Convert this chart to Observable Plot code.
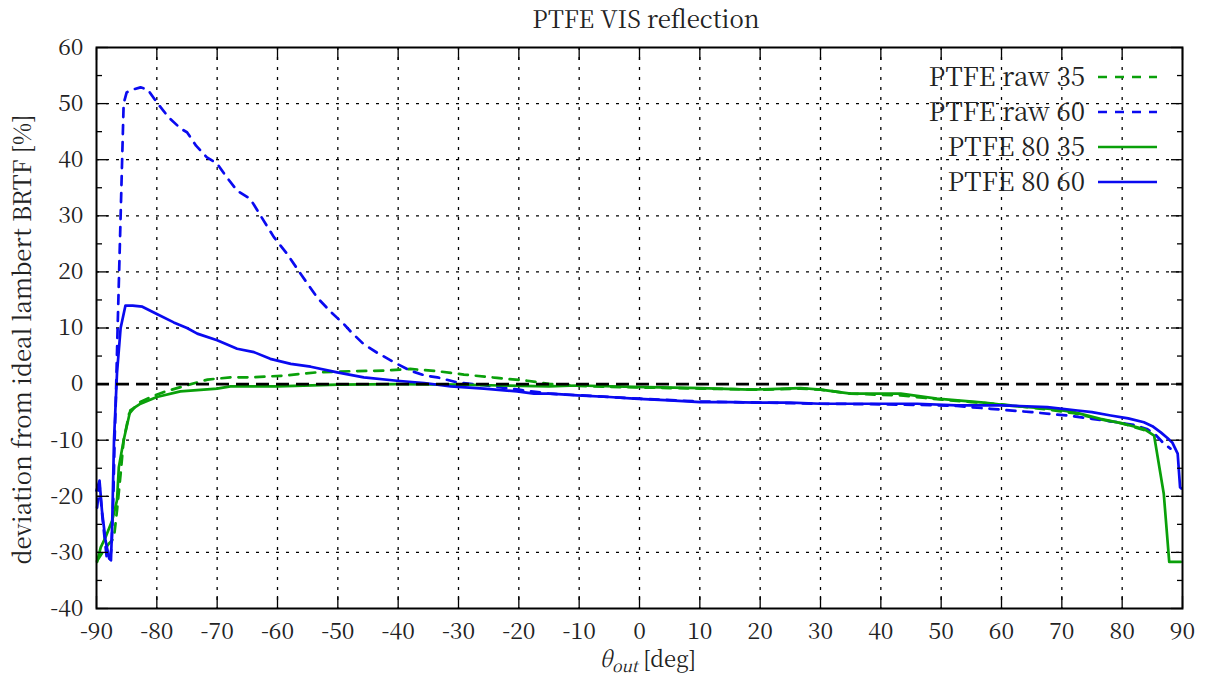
<!DOCTYPE html>
<html>
<head>
<meta charset="utf-8">
<script src="https://cdn.jsdelivr.net/npm/d3@7"></script>
<script src="https://cdn.jsdelivr.net/npm/@observablehq/plot@0.6"></script>
<style>
  body { margin: 0; background: #fff; }
  #chart svg { display: block; }
</style>
</head>
<body>
<div id="chart"></div>
<script>
// Deviation of measured BRTF from an ideal Lambertian reflector, per outgoing angle.

const raw35Angle = [-89.9, -89.0, -88.0, -87.4, -87.1, -86.6, -86.0, -85.5, -84.6, -83.0, -81.0, -78.8, -75.0, -71.6, -67.8, -64.5, -59.0, -53.4, -47.9, -42.4, -38.0, -33.5, -29.1, -23.6, -18.6, -14.8, -10.0, -5.0, 0.0, 5.0, 10.0, 15.6, 20.0, 26.7, 30.0, 35.0, 40.0, 43.3, 49.3, 55.0, 59.8, 65.0, 68.1, 72.0, 76.4, 80.0, 83.6, 84.7];
const raw35Dev = [-31.5, -30.0, -28.5, -27.8, -27.3, -22.5, -16.0, -10.0, -5.3, -3.3, -2.3, -1.4, -0.2, 0.8, 1.2, 1.2, 1.5, 2.1, 2.3, 2.4, 2.7, 2.3, 1.7, 1.1, 0.6, 0.0, -0.3, -0.5, -0.6, -0.7, -0.8, -0.9, -1.0, -0.8, -1.0, -1.7, -1.9, -2.0, -2.7, -3.2, -3.6, -4.2, -4.6, -5.2, -6.3, -7.0, -8.2, -8.8];

const raw60Angle = [-89.9, -89.5, -89.0, -88.3, -87.8, -87.5, -87.2, -87.0, -86.8, -86.5, -86.0, -85.5, -85.0, -84.0, -82.7, -81.5, -80.0, -78.0, -76.0, -75.0, -73.5, -71.7, -70.0, -68.5, -66.7, -64.5, -62.5, -60.6, -58.4, -56.0, -53.4, -51.2, -49.0, -47.9, -45.7, -43.5, -40.7, -38.0, -35.5, -33.5, -30.2, -25.8, -20.0, -15.0, -10.0, -5.0, 0.0, 10.0, 20.0, 30.0, 40.0, 46.0, 52.6, 58.2, 65.0, 70.9, 75.0, 79.2, 82.0, 84.1, 85.5, 86.9, 88.0];
const raw60Dev = [-22.0, -18.0, -24.0, -31.0, -31.5, -29.0, -20.0, -10.0, -3.0, 10.0, 30.0, 50.0, 52.0, 52.5, 52.9, 52.5, 50.2, 47.5, 45.5, 44.9, 42.5, 40.4, 39.3, 37.0, 34.5, 33.0, 29.5, 26.2, 23.2, 19.4, 15.4, 12.9, 10.7, 9.4, 7.1, 5.6, 3.9, 2.4, 1.5, 1.2, 0.3, -0.2, -1.0, -1.7, -2.0, -2.3, -2.6, -3.1, -3.3, -3.5, -3.6, -3.7, -3.9, -4.4, -5.0, -5.6, -6.2, -6.8, -7.3, -8.0, -9.0, -10.6, -11.5];

const pr35Angle = [-89.9, -89.3, -88.5, -87.4, -86.6, -86.3, -85.5, -84.4, -82.7, -80.0, -76.1, -70.0, -67.8, -60.0, -50.0, -40.0, -30.0, -23.0, -15.0, -10.3, -0.9, 10.1, 18.4, 26.7, 30.0, 35.0, 43.3, 49.3, 57.1, 60.9, 68.1, 72.0, 76.4, 80.0, 83.6, 85.3, 86.9, 87.8, 89.7];
const pr35Dev = [-31.7, -29.1, -27.3, -24.3, -20.7, -14.8, -10.0, -4.7, -3.5, -2.3, -1.3, -0.8, -0.4, -0.4, -0.1, 0.0, -0.1, -0.25, -0.4, -0.25, -0.5, -0.7, -1.0, -0.7, -1.0, -1.7, -1.7, -2.6, -3.3, -3.8, -4.4, -5.0, -6.2, -7.0, -8.0, -9.2, -19.6, -31.7, -31.7];

const pr60Angle = [-90.0, -89.5, -89.1, -88.5, -87.9, -87.6, -87.4, -87.1, -86.6, -86.0, -85.2, -84.0, -82.4, -80.0, -77.2, -75.0, -73.3, -70.0, -66.7, -63.9, -61.2, -57.8, -54.5, -50.1, -45.7, -40.2, -35.7, -31.3, -25.8, -20.3, -17.5, -14.8, -10.3, -5.0, -0.9, 5.0, 10.1, 15.0, 19.5, 25.0, 30.0, 35.0, 40.0, 46.0, 52.6, 56.0, 59.8, 63.0, 67.6, 72.6, 75.0, 78.1, 81.0, 83.6, 85.0, 86.4, 87.5, 88.3, 89.2, 89.6, 89.8];
const pr60Dev = [-19.0, -17.2, -22.5, -27.9, -31.1, -31.4, -24.9, -10.0, 2.0, 10.0, 14.0, 14.0, 13.8, 12.5, 11.0, 10.0, 9.0, 7.8, 6.3, 5.7, 4.5, 3.6, 3.1, 2.1, 1.2, 0.6, 0.2, -0.4, -0.8, -1.3, -1.7, -1.7, -2.0, -2.3, -2.6, -2.9, -3.2, -3.2, -3.3, -3.3, -3.5, -3.5, -3.5, -3.5, -3.8, -3.8, -3.8, -3.9, -4.1, -4.7, -5.0, -5.6, -6.1, -6.8, -7.5, -8.6, -9.6, -10.4, -12.4, -18.4, -18.6];

const seriesNames = ["PTFE raw 35", "PTFE raw 60", "PTFE 80 35", "PTFE 80 60"];
const xTicks = d3.range(-90, 91, 10);
const yTicks = d3.range(-40, 61, 10);
const yMinorTicks = d3.range(-35, 60, 10);

const GREEN = "#0aa00a";
const BLUE = "#0a0af0";
const INK = "#222";
const FONT = "'Noto Serif CJK SC', 'Liberation Serif', serif";

const series = [
  {name: seriesNames[0], angle: raw35Angle, dev: raw35Dev, color: GREEN, dash: "9,8"},
  {name: seriesNames[1], angle: raw60Angle, dev: raw60Dev, color: BLUE, dash: "9,8"},
  {name: seriesNames[2], angle: pr35Angle, dev: pr35Dev, color: GREEN, dash: null},
  {name: seriesNames[3], angle: pr60Angle, dev: pr60Dev, color: BLUE, dash: null}
];

const rowsOf = s => s.angle.map((a, i) => ({angle: a, dev: s.dev[i]}));

const W = 1210, H = 677;
const M = {top: 47, right: 28, bottom: 69, left: 96};
const fmt = d => String(d);

const tickStyle = {stroke: "#000", strokeWidth: 1.3, fill: "none", label: null};
const gridStyle = {stroke: "#000", strokeOpacity: 1, strokeWidth: 1.3, strokeDasharray: "3,7"};

const chart = Plot.plot({
  width: W,
  height: H,
  marginTop: M.top,
  marginRight: M.right,
  marginBottom: M.bottom,
  marginLeft: M.left,
  style: {fontSize: "23px", color: INK, background: "#fff"},
  x: {domain: [-90, 90]},
  y: {domain: [-40, 60]},
  marks: [
    Plot.gridX(xTicks.slice(1, -1), gridStyle),
    Plot.gridY(yTicks.slice(1, -1), gridStyle),
    ...series.map(s => Plot.line(rowsOf(s), {
      x: "angle", y: "dev", stroke: s.color, strokeWidth: 2.7,
      strokeDasharray: s.dash, strokeLinejoin: "round"
    })),
    Plot.ruleY([0], {stroke: "#000", strokeWidth: 2.6, strokeDasharray: "13,7"}),
    Plot.frame({stroke: "#000", strokeWidth: 2}),
    // tick labels
    Plot.axisX({ticks: xTicks, anchor: "bottom", tickSize: 0, tickPadding: 14, tickFormat: fmt, label: null, fill: INK}),
    Plot.axisY({ticks: yTicks, anchor: "left", tickSize: 0, tickPadding: 13, tickFormat: fmt, label: null, fill: INK}),
    // inward ticks on all four sides
    Plot.axisX({ticks: xTicks, anchor: "bottom", tickSize: -12, ...tickStyle}),
    Plot.axisX({ticks: xTicks, anchor: "top", tickSize: -12, ...tickStyle}),
    Plot.axisY({ticks: yTicks, anchor: "left", tickSize: -12, ...tickStyle}),
    Plot.axisY({ticks: yTicks, anchor: "right", tickSize: -12, ...tickStyle}),
    Plot.axisY({ticks: yMinorTicks, anchor: "left", tickSize: -6, ...tickStyle}),
    Plot.axisY({ticks: yMinorTicks, anchor: "right", tickSize: -6, ...tickStyle})
  ]
});

document.getElementById("chart").appendChild(chart);

const svg = d3.select(chart);
const ys = chart.scale("y");
const plotCx = (M.left + (W - M.right)) / 2;

const addText = (parent, size) => parent.append("text")
  .attr("font-size", size).attr("fill", INK);

// title
addText(svg, 24)
  .attr("x", plotCx + 7).attr("y", 28)
  .attr("text-anchor", "middle")
  .text("PTFE VIS reflection");

// x axis label with subscript
const xl = addText(svg, 22)
  .attr("x", plotCx + 9).attr("y", 667)
  .attr("text-anchor", "middle");
xl.append("tspan").attr("font-style", "italic").text("θ");
xl.append("tspan").attr("font-style", "italic").attr("font-size", 16).attr("dy", 5).text("out");
xl.append("tspan").attr("dy", -5).text(" [deg]");

// y axis label
addText(svg, 24)
  .attr("transform", `translate(31,${(ys.apply(60) + ys.apply(-40)) / 2 + 12}) rotate(-90)`)
  .attr("text-anchor", "middle")
  .text("deviation from ideal lambert BRTF [%]");

// key, top right inside the frame
const keyRight = W - M.right - 97;
const key = svg.append("g");
series.forEach((s, i) => {
  const cy = M.top + 30 + i * 35;
  addText(key, 26)
    .attr("x", keyRight).attr("y", cy).attr("dy", "0.33em")
    .attr("text-anchor", "end")
    .text(s.name);
  key.append("line")
    .attr("x1", keyRight + 13).attr("x2", keyRight + 72)
    .attr("y1", cy).attr("y2", cy)
    .attr("stroke", s.color).attr("stroke-width", 2.7)
    .attr("stroke-dasharray", s.dash);
});

// one serif face for every text in the figure
svg.attr("font-family", FONT).style("font-family", FONT);
svg.selectAll("text").attr("font-family", FONT).style("font-family", FONT);
</script>
</body>
</html>
